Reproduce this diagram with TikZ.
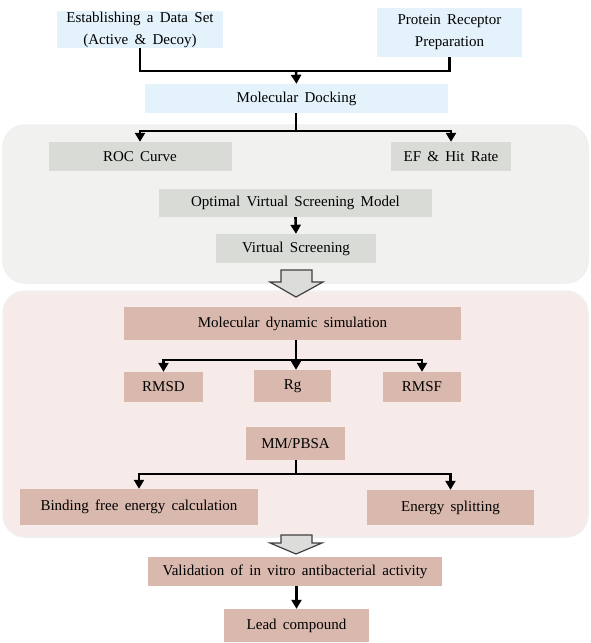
\documentclass[tikz,border=0pt]{standalone}
\usepackage{fontspec}
\setmainfont{Liberation Serif}
\usepackage{tikz}
\usetikzlibrary{positioning,arrows,arrows.meta}

\definecolor{boxblue}{HTML}{E4F2FB}
\definecolor{boxgrey}{HTML}{D9DBD6}
\definecolor{panelgrey}{HTML}{F1F1EF}
\definecolor{boxpink}{HTML}{D9B8AD}
\definecolor{panelpink}{HTML}{F6EBE8}
\definecolor{bigarrow}{HTML}{DCDCDA}

\newcommand{\stepfont}{\fontsize{15}{22}\selectfont\spaceskip=0.42em plus 0.1em\relax}

\tikzset{
	stepnode/.style={inner sep=0pt, align=center, font=\stepfont},
	bluebox/.style={stepnode, fill=boxblue},
	greybox/.style={stepnode, fill=boxgrey},
	pinkbox/.style={stepnode, fill=boxpink},
	flow/.style={line width=2.6pt, black},
	flowarrow/.style={flow, -{Triangle[length=9pt,width=10pt]}},
	panel/.style={rounded corners=22pt, draw=black!6, line width=1.5pt},
	blockarrow/.style={fill=bigarrow, draw=black!75, line width=1.2pt, line join=miter}
}

\begin{document}
\begin{tikzpicture}[x=1pt,y=-1pt]
	\useasboundingbox (0,0) rectangle (591,643);
	% background panels
	\filldraw[panel, fill=panelgrey] (3,125) rectangle (588,283);
	\filldraw[panel, fill=panelpink] (3,291) rectangle (588,537);
	% big hollow arrows
	\filldraw[blockarrow] (281,270)--(312,270)--(312,282)--(323,282)--(296,297)--(270,282)--(281,282)--cycle;
	\filldraw[blockarrow] (281,535)--(312,535)--(312,543)--(322,543)--(296,554)--(270,543)--(281,543)--cycle;

	% nodes
	\node[bluebox, minimum width=166pt, minimum height=37pt] (dataset) at (140,29.5) {Establishing a Data Set\\(Active \& Decoy)};
	\node[bluebox, minimum width=145pt, minimum height=49pt] (protein) at (449.5,32.5) {Protein Receptor\\Preparation};
	\node[bluebox, minimum width=303pt, minimum height=29pt] (dock) at (296.5,98.5) {Molecular Docking};
	\node[greybox, minimum width=183pt, minimum height=29pt] (roc) at (140,156.5) {ROC Curve};
	\node[greybox, minimum width=120pt, minimum height=29pt] (ef) at (451,156.5) {EF \& Hit Rate};
	\node[greybox, minimum width=273pt, minimum height=28pt] (optimal) at (295.5,203) {Optimal Virtual Screening Model};
	\node[greybox, minimum width=160pt, minimum height=29pt] (vs) at (296,248.5) {Virtual Screening};
	\node[pinkbox, minimum width=337pt, minimum height=33pt] (md) at (292.5,323.5) {Molecular dynamic simulation};
	\node[pinkbox, minimum width=79pt, minimum height=30pt] (rmsd) at (163.5,387) {RMSD};
	\node[pinkbox, minimum width=77pt, minimum height=32pt] (rg) at (292.5,386) {Rg};
	\node[pinkbox, minimum width=78pt, minimum height=30pt] (rmsf) at (422,387) {RMSF};
	\node[pinkbox, minimum width=99pt, minimum height=33pt] (mmpbsa) at (295.5,443.5) {MM/PBSA};
	\node[pinkbox, minimum width=238pt, minimum height=36pt] (binding) at (139,507) {Binding free energy calculation};
	\node[pinkbox, minimum width=167pt, minimum height=35pt] (energy) at (450.5,507.5) {Energy splitting};
	\node[pinkbox, minimum width=294pt, minimum height=29pt] (valid) at (295,571.5) {Validation of in vitro antibacterial activity};
	\node[pinkbox, minimum width=145pt, minimum height=33pt] (lead) at (296.5,625.5) {Lead compound};

	% connectors
	\coordinate (fork1) at (296,71);
	\coordinate (fork2) at (296,131);
	\coordinate (fork3) at (296,360);
	\coordinate (fork4) at (296,474);
	\draw[flow] (dataset.south) |- (fork1) -| (protein.south);
	\draw[flowarrow] (fork1) -- (dock.north);
	\draw[flow] (dock.south -| fork2) -- (fork2);
	\draw[flowarrow] (fork2) -| (roc.north);
	\draw[flowarrow] (fork2) -| (ef.north);
	\draw[flowarrow] (optimal.south) -- (vs.north);
	\draw[flow] (md.south -| fork3) -- (fork3);
	\draw[flowarrow] (fork3) -| (rmsd.north);
	\draw[flowarrow] (fork3) -- (rg.north -| fork3);
	\draw[flowarrow] (fork3) -| (rmsf.north);
	\draw[flow] (mmpbsa.south -| fork4) -- (fork4);
	\draw[flowarrow] (fork4) -| (binding.north);
	\draw[flowarrow] (fork4) -| (energy.north);
	\draw[flowarrow] (valid.south -| lead.north) -- (lead.north);
\end{tikzpicture}
\end{document}
